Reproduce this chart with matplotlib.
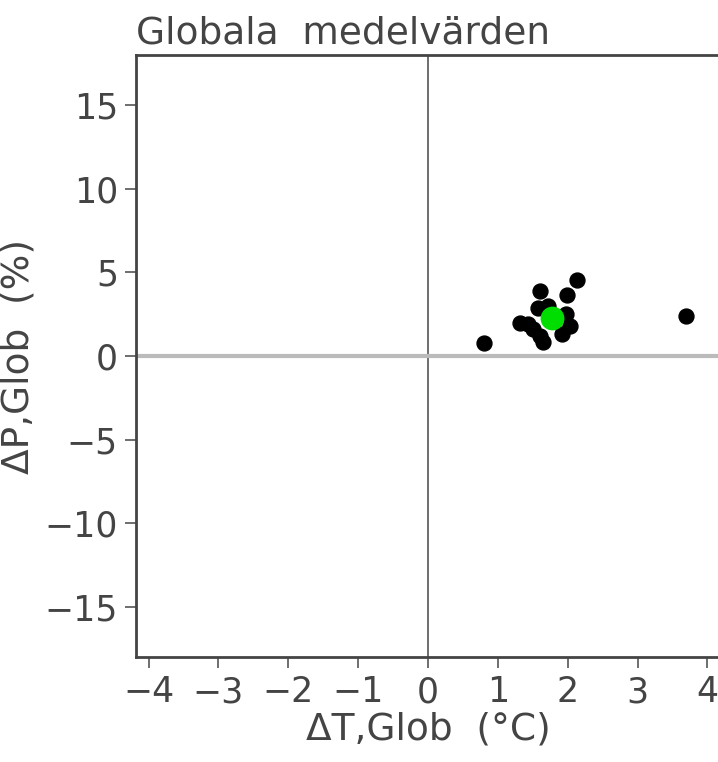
import matplotlib
matplotlib.use('Agg')
import matplotlib.pyplot as plt

# Model spread (black) and ensemble mean (green)
dT = [0.80, 2.14, 1.60, 1.99, 1.58, 1.98, 1.32, 1.43, 2.03, 1.60, 1.65, 1.92, 3.69, 1.72, 1.50]
dP = [0.78, 4.56, 3.90, 3.63, 2.89, 2.49, 1.99, 1.89, 1.79, 1.18, 0.82, 1.29, 2.39, 2.99, 1.60]
mean_dT = [1.77]
mean_dP = [2.29]

xticks = [-4, -3, -2, -1, 0, 1, 2, 3, 4]
yticks = [-15, -10, -5, 0, 5, 10, 15]

plt.rcParams['font.family'] = ['DejaVu Sans']

fig = plt.figure(figsize=(7.18, 7.62), dpi=100)
ax = fig.add_axes([136/718, 105/762, 584/718, 602/762])

txt = '#444444'
ax.axvline(0, color='#555555', lw=1.2, zorder=1)
ax.axhline(0, color='#bbbbbb', lw=3, zorder=1)

ax.scatter(dT, dP, s=115, color='black', zorder=3)
ax.scatter(mean_dT, mean_dP, s=260, color='#00dd00', zorder=4)

ax.set_xlim(-4.18, 4.18)
ax.set_ylim(-18, 18)
ax.set_xticks(xticks)
ax.set_yticks(yticks)
ax.set_xticklabels(['\u2212%d' % -v if v < 0 else str(v) for v in xticks])
ax.set_yticklabels(['\u2212%d' % -v if v < 0 else str(v) for v in yticks])
ax.tick_params(direction='out', length=8, width=1.2, colors='#555555',
               labelcolor=txt, labelsize=25, pad=5)

for s in ax.spines.values():
    s.set_color('#444444')
    s.set_linewidth(2)
ax.spines['right'].set_visible(False)

ax.set_title('Globala  medelvärden', loc='left', fontsize=27, color=txt, pad=8)
ax.set_xlabel('\u0394T,Glob  (°C)', fontsize=27, color=txt, labelpad=2)
ax.set_ylabel('\u0394P,Glob  (%)', fontsize=27, color=txt, labelpad=6)

plt.savefig('out.png', dpi=100)
